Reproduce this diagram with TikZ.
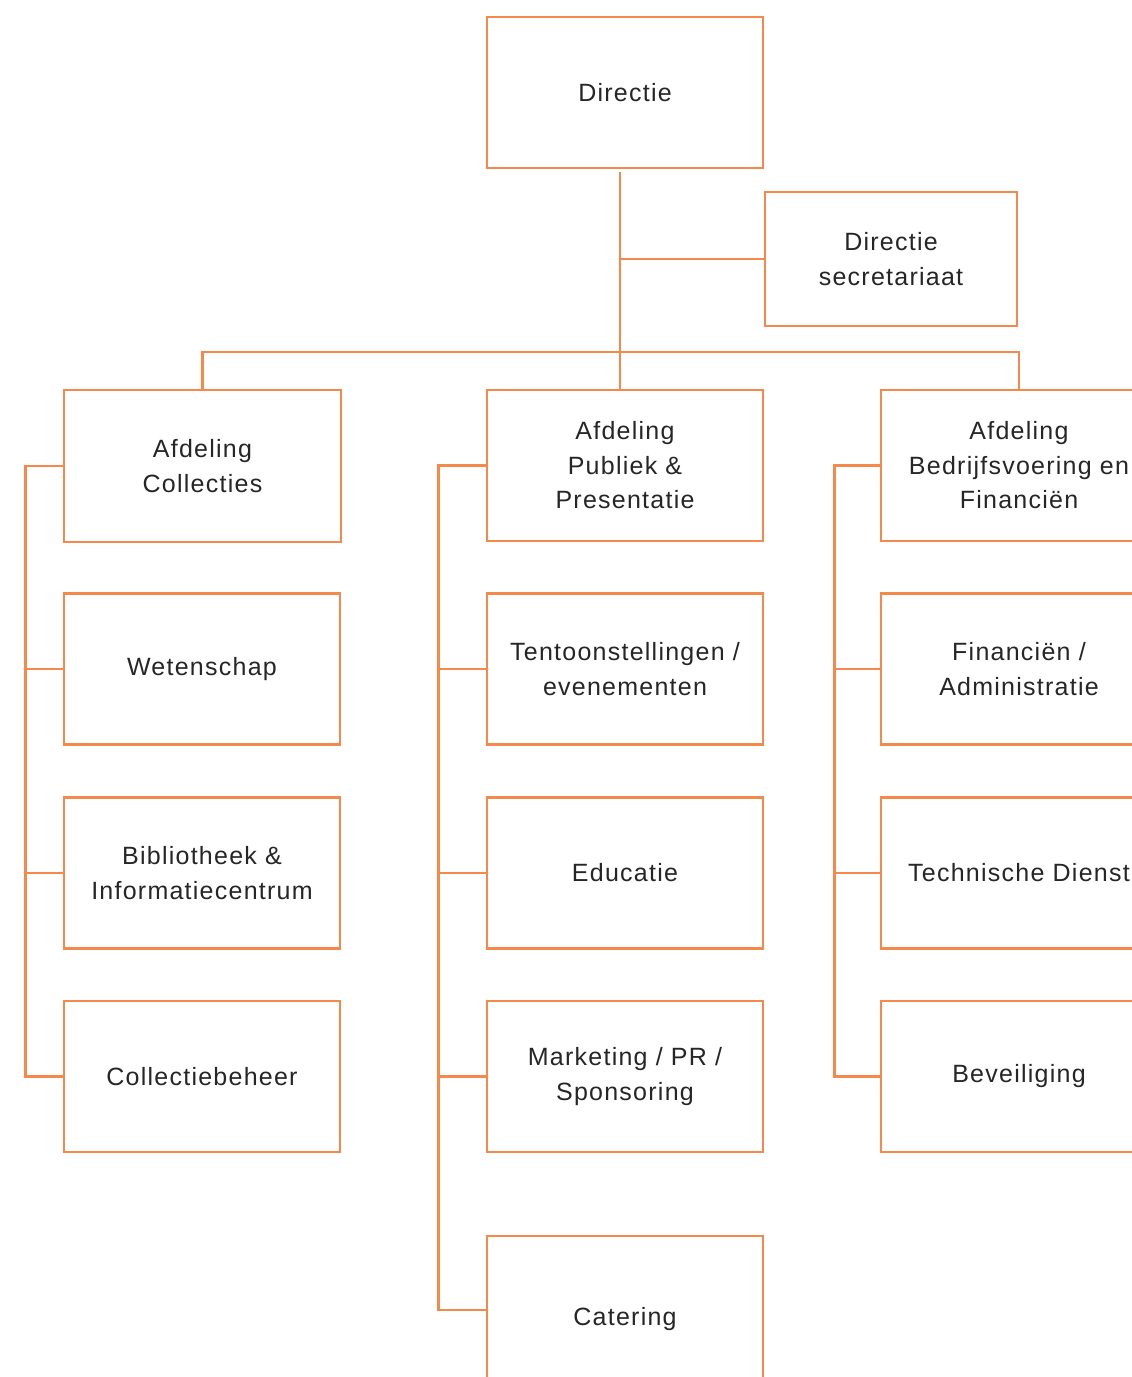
\documentclass[tikz,border=0pt]{standalone}
\usepackage{fontspec}
\setmainfont{Liberation Sans}[LetterSpace=5]
\definecolor{org}{RGB}{245,137,76}
\definecolor{txt}{RGB}{38,38,38}
\begin{document}
\begin{tikzpicture}[x=1pt,y=-1pt,
  box/.style={draw=org, line width=2.6pt, minimum width=276pt, minimum height=151pt, inner sep=0pt, align=center, text=txt, font=\fontsize{25}{34.5}\selectfont},
  conn/.style={draw=org, line width=2.6pt}]
\clip (0,0) rectangle (1132,1377);
\useasboundingbox (0,0) rectangle (1132,1377);
\fill[white] (0,0) rectangle (1132,1377);
% top
\node[box] (dir) at (625,92.5) {Directie};
\node[box, minimum width=252pt, minimum height=134pt] (sec) at (891,259) {Directie\\secretariaat};
% departments
\node[box, minimum width=277pt, minimum height=152pt] (col) at (202.5,466) {Afdeling\\Collecties};
\node[box] (pub) at (625,465.5) {Afdeling\\Publiek \&\\Presentatie};
\node[box] (bfin) at (1019,465.5) {Afdeling\\Bedrijfsvoering en\\Financiën};
% left column
\node[box] (wet) at (202,669) {Wetenschap};
\node[box] (bib) at (202,873) {Bibliotheek \&\\Informatiecentrum};
\node[box] (cbh) at (202,1076.5) {Collectiebeheer};
% middle column
\node[box] (ten) at (625,669) {Tentoonstellingen /\\evenementen};
\node[box] (edu) at (625,873) {Educatie};
\node[box] (mkt) at (625,1076.5) {Marketing / PR /\\Sponsoring};
\node[box, minimum height=154pt, text height=31pt] (cat) at (625,1313) {Catering};
% right column
\node[box] (fad) at (1019,669) {Financiën /\\Administratie};
\node[box] (tech) at (1019,873) {Technische Dienst};
\node[box] (bev) at (1019,1076.5) {Beveiliging};
% trunk
\coordinate (trunkTop) at (620,172);
\draw[conn] (trunkTop) -- (trunkTop |- pub.north);
\draw[conn] (trunkTop |- sec.west) -- (sec.west);
\coordinate (bar) at (0,352);
\draw[conn] (col.north) -- (col.north |- bar) -- (bfin.north |- bar) -- (bfin.north);
% left bracket
\draw[conn] (col.west) -- ++(-37,0) |- (cbh.west);
\draw[conn] (wet.west) -- ++(-37,0);
\draw[conn] (bib.west) -- ++(-37,0);
% middle bracket
\draw[conn] (pub.west) -- ++(-47,0) |- ([yshift=3pt]cat.west);
\draw[conn] (ten.west) -- ++(-47,0);
\draw[conn] (edu.west) -- ++(-47,0);
\draw[conn] (mkt.west) -- ++(-47,0);
% right bracket
\draw[conn] (bfin.west) -- ++(-45,0) |- (bev.west);
\draw[conn] (fad.west) -- ++(-45,0);
\draw[conn] (tech.west) -- ++(-45,0);
\end{tikzpicture}
\end{document}
